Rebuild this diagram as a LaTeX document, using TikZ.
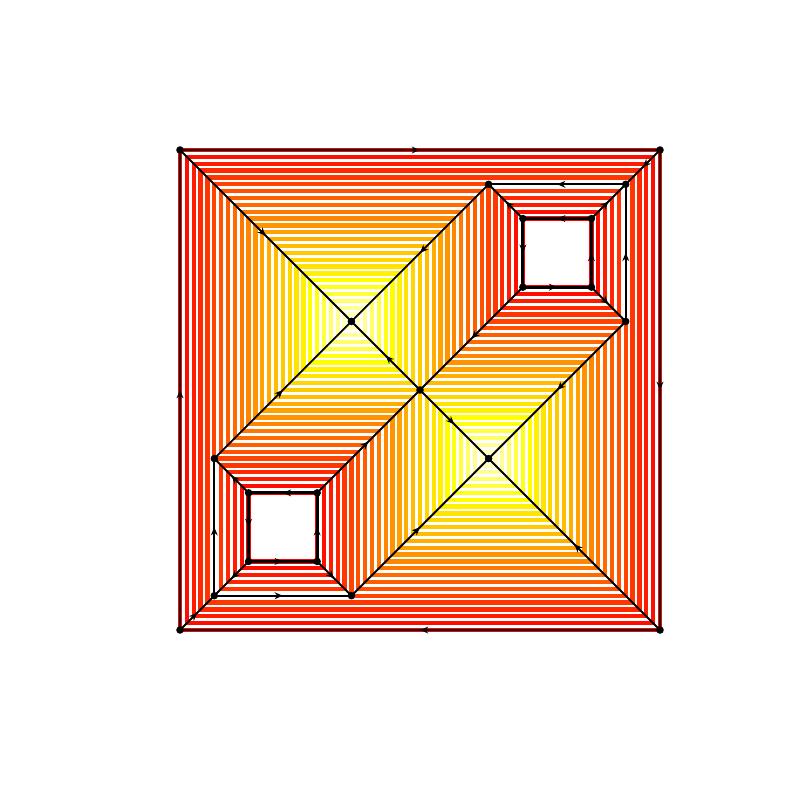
\documentclass[tikz,border=0pt]{standalone}
\usepackage{tikz}
\usetikzlibrary{arrows.meta, decorations.markings}
\tikzstyle{level} = [line width=3.5pt]
\tikzstyle{bone} = [line width=1.6pt, postaction={decorate},
  decoration={markings, mark=at position 0.5 with {\arrow{Stealth[length=2.4mm, width=2mm]}}}]
\tikzstyle{rim} = [bone, line width=2.3pt]

\begin{document}
\begin{tikzpicture}
    \useasboundingbox (-5.25,-4.958) rectangle (18.083,18.375);
    % offset contours, coloured by distance
    \foreach \k in {0,...,25}{
      \pgfmathsetmacro\d{\k/5}
      \ifnum\k<20
        \pgfmathsetmacro\g{\k/19}
        \definecolor{lvl}{rgb}{1,\g,0}
      \else
        \pgfmathsetmacro\bl{1/12+(\k-20)/6}
        \definecolor{lvl}{rgb}{1,1,\bl}
      \fi
      \ifnum\k<5
        \draw[level, lvl] (\d,\d) rectangle ({14-\d},{14-\d});
        \draw[level, lvl] ({10-\d},{10-\d}) rectangle ({12+\d},{12+\d});
        \draw[level, lvl] ({2-\d},{2-\d}) rectangle ({4+\d},{4+\d});
      \else\ifnum\k<16
        \draw[level, lvl] (\d,{4+\d}) -- (\d,{14-\d}) -- ({10-\d},{14-\d})
          -- ({10-\d},{10-\d}) -- ({14-\d},{10-\d}) -- ({14-\d},\d)
          -- ({4+\d},\d) -- ({4+\d},{4+\d}) -- cycle;
      \else
        \draw[level, lvl] (\d,{4+\d}) rectangle ({10-\d},{14-\d});
        \draw[level, lvl] ({4+\d},\d) rectangle ({14-\d},{10-\d});
      \fi\fi
    }
    % vertices
    \coordinate (sw) at (0,0);
    \coordinate (se) at (14,0);
    \coordinate (ne) at (14,14);
    \coordinate (nw) at (0,14);
    \coordinate (ur1) at (10,10);
    \coordinate (ur2) at (12,10);
    \coordinate (ur3) at (12,12);
    \coordinate (ur4) at (10,12);
    \coordinate (ll1) at (2,2);
    \coordinate (ll2) at (4,2);
    \coordinate (ll3) at (4,4);
    \coordinate (ll4) at (2,4);
    \coordinate (s1) at (1,1);
    \coordinate (s2) at (5,1);
    \coordinate (s3) at (9,5);
    \coordinate (s4) at (13,9);
    \coordinate (s5) at (13,13);
    \coordinate (s6) at (9,13);
    \coordinate (s7) at (5,9);
    \coordinate (s8) at (1,5);
    \coordinate (mid) at (7,7);
    % skeleton
    \foreach \a/\b in {nw/s7, ne/s5, se/s3, sw/s1, ur3/s5, ur4/s6, ur2/s4, ur1/mid,
                       ll4/s8, ll1/s1, ll2/s2, ll3/mid, s5/s6, s4/s5, s1/s8, s1/s2,
                       s6/s7, s4/s3, s8/s7, s2/s3, mid/s7, mid/s3}
      \draw[bone] (\a) -- (\b);
    % boundaries
    \foreach \a/\b in {nw/ne, ne/se, se/sw, sw/nw, ur3/ur4, ur4/ur1, ur1/ur2, ur2/ur3,
                       ll3/ll4, ll4/ll1, ll1/ll2, ll2/ll3}
      \draw[rim] (\a) -- (\b);
    \foreach \p in {sw, se, ne, nw, ur1, ur2, ur3, ur4, ll1, ll2, ll3, ll4,
                    s1, s2, s3, s4, s5, s6, s7, s8, mid}
      \fill (\p) circle (0.11);
\end{tikzpicture}
\end{document}
